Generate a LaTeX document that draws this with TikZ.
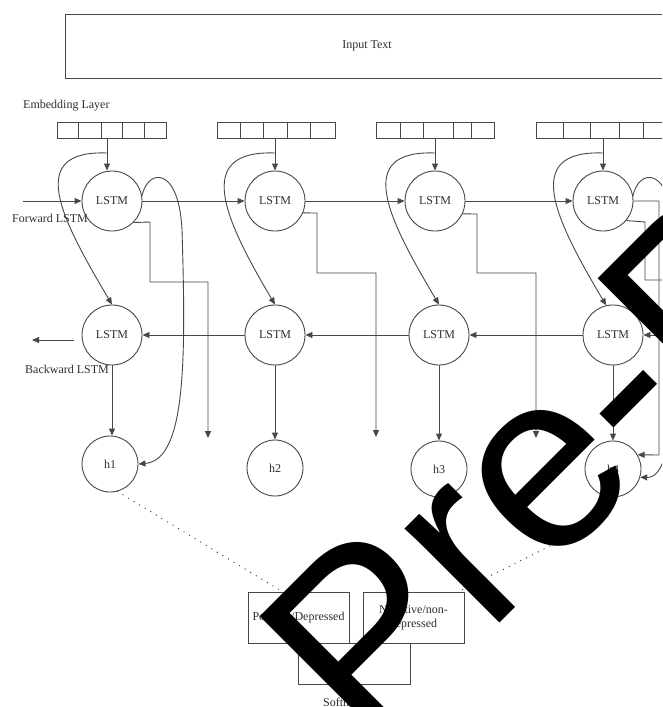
\documentclass[tikz,border=0pt]{standalone}
\usepackage{fontspec}
\setmainfont{Liberation Serif}
\newfontfamily\wmfont{Liberation Sans}
\usetikzlibrary{arrows.meta,calc}

\tikzset{
  line/.style={draw=black!72, line width=0.9pt},
  arr/.style={line, -{Triangle[length=7pt,width=6pt]}},
  txt/.style={font=\fontsize{12}{14}\selectfont, text=black!82},
  lstm/.style={circle, line, minimum size=60pt, inner sep=0pt, txt},
  hid/.style={circle, line, minimum size=56pt, inner sep=0pt, txt},
  lbl/.style={txt, inner sep=0pt},
  outbox/.style={rectangle, line, inner sep=0pt, txt, align=center},
  dots/.style={draw=black!75, line width=1.4pt, line cap=round, dash pattern=on 0pt off 6.5pt},
}

\begin{document}
\begin{tikzpicture}[x=1pt,y=-1pt]
\useasboundingbox (0,0) rectangle (662,707);
\clip (0,0) rectangle (662,707);

% input box
\node[outbox, anchor=north west, minimum width=615pt, minimum height=64pt] (input) at (65,14) {};
\node[lbl] (inputtxt) at (367,46) {Input Text};

% embedding layer
\node[lbl, anchor=west] (emblbl) at (23,106) {Embedding Layer};
\foreach \a/\b in {57/78,78/101,101/122,122/144,144/166,
                   217/240,240/263,263/287,287/310,310/335,
                   376/400,400/423,423/453,453/471,471/494,
                   536/563,563/590,590/619,619/643,643/670}
  \draw[line] (\a,122) rectangle (\b,138);

% forward LSTM cells
\node[lstm] (f1) at (112,201) {LSTM};
\node[lstm] (f2) at (275,201) {LSTM};
\node[lstm] (f3) at (435,201) {LSTM};
\node[lstm] (f4) at (603,201) {LSTM};

% backward LSTM cells
\node[lstm] (b1) at (112,335) {LSTM};
\node[lstm] (b2) at (275,335) {LSTM};
\node[lstm] (b3) at (439,335) {LSTM};
\node[lstm] (b4) at (613,335) {LSTM};

% hidden states
\node[hid] (h1) at (110,464) {h1};
\node[hid] (h2) at (275,468) {h2};
\node[hid] (h3) at (439,469) {h3};
\node[hid] (h4) at (613,469) {h4};

% labels
\node[lbl, anchor=west] (fwdlbl) at (12,218) {Forward LSTM};
\node[lbl, anchor=west] (bwdlbl) at (25,369) {Backward LSTM};

% embedding feeds
\foreach \i/\x in {1/107,2/275,3/435,4/603} {
  \coordinate (e\i) at (\x,138);
  \coordinate (s\i) at (\x,153);
  \draw[arr] (e\i) -- (e\i |- f\i.north);
}
\draw[arr] (s1) .. controls +(-82,-3) and +(-51,-86) .. (b1.north);
\draw[arr] (s2) .. controls +(-82,-3) and +(-51,-86) .. (b2.north);
\draw[arr] (s3) .. controls +(-82,-3) and +(-51,-86) .. (b3.north);
\draw[arr] (s4) .. controls +(-82,-3) and +(-51,-86) .. (b4.103);

% forward chain
\coordinate (fin) at (23,201);
\draw[arr] (fin) -- (f1.west);
\draw[arr] (f1.east) -- (f2.west);
\draw[arr] (f2.east) -- (f3.west);
\draw[arr] (f3.east) -- (f4.west);

% backward chain
\coordinate (bin) at (672,335);
\draw[arr] (bin) -- (b4.east);
\draw[arr] (b4.west) -- (b3.east);
\draw[arr] (b3.west) -- (b2.east);
\draw[arr] (b2.west) -- (b1.east);
\coordinate (bo1) at (74,340);
\coordinate (bo2) at (32,340);
\draw[arr] (bo1) -- (bo2);

% backward to hidden
\foreach \i in {1,2,3,4}
  \draw[arr] (b\i.south) -- (b\i.south |- h\i.north);

% stepped outputs of the forward cells
\draw[arr] (f1.-45) -- (150,222) -- (150,282) -- (208,282) -- (208,438);
\draw[arr] (f2.-23) -- (317,213) -- (317,273) -- (376,273) -- (376,437);
\draw[arr] (f3.-25) -- (477,214) -- (477,273) -- (536,273) -- (536,438);
\draw[line] (f4.-40) -- (645,222) -- (645,280) -- (672,280);

% forward cell to hidden state loops
\draw[arr] (f1.10) .. controls (148,168) and (179,166) .. (182,230)
                   .. controls (186,360) and (186,460) .. (h1.east);
\draw[arr] (f4.10) .. controls (639,168) and (670,166) .. (673,230)
                   .. controls (677,360) and (678,478) .. (h4.-17);
\draw[arr] (f4.east) -- (659,201) -- (659,455) -- (h4.30);

% output layer
\node[outbox, minimum width=112pt, minimum height=41pt] (soft) at (354,663.5) {};
\node[outbox, minimum width=101pt, minimum height=51pt] (pos) at (298.5,617.5) {Positive/Depressed};
\node[outbox, minimum width=101pt, minimum height=51pt, text width=95pt] (neg) at (413.5,617.5) {Negative/non-\\depressed};
\node[lbl, anchor=west] (softlbl) at (323,702) {Softmax};

\coordinate (pin) at (283,592);
\coordinate (nin) at (458,592);
\coordinate (hd4) at (608,517);
\draw[dots] (h1.-75) -- (pin);
\draw[dots] (hd4) -- (nin);

% diagonal stamp
\node[anchor=base west, rotate=45, inner sep=0pt, text=black,
      font=\wmfont\fontsize{253}{253}\selectfont] (stamp) at (368,755) {Pre-Print};
\end{tikzpicture}
\end{document}
